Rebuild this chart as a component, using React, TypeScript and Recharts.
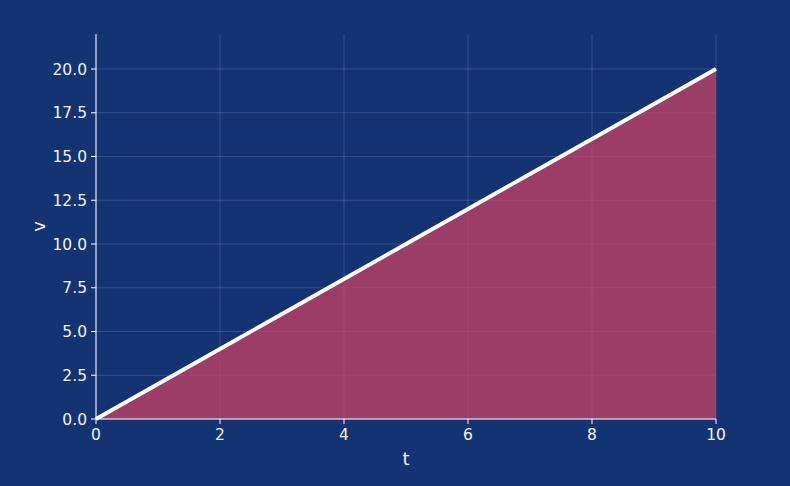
import React from "react";
import {
  ComposedChart,
  Area,
  Line,
  XAxis,
  YAxis,
  CartesianGrid,
} from "recharts";

// time and velocity samples (v = 2t)
const tValues = [0, 1, 2, 3, 4, 5, 6, 7, 8, 9, 10];
const vValues = [0, 2, 4, 6, 8, 10, 12, 14, 16, 18, 20];

const xTicks = [0, 2, 4, 6, 8, 10];
const yTicks = [0, 2.5, 5, 7.5, 10, 12.5, 15, 17.5, 20];

const BG = "#133373";
const TEXT = "#f2f3fa";
const FONT = "DejaVu Sans, sans-serif";

const data = tValues.map((t, i) => ({ t, v: vValues[i] }));

// rotated y label, centred on the axis height
const YLabel = (props: any) => {
  const { viewBox } = props;
  const cx = viewBox.x + 2;
  const cy = viewBox.y + viewBox.height / 2;
  return (
    <text
      x={cx}
      y={cy}
      fill={TEXT}
      fontSize={18}
      fontFamily={FONT}
      textAnchor="middle"
      dominantBaseline="central"
      transform={`rotate(-90, ${cx}, ${cy})`}
    >
      v
    </text>
  );
};

export default function App() {
  return (
    <div
      style={{
        position: "absolute",
        left: 0,
        top: 0,
        width: 790,
        height: 486,
        background: BG,
        fontFamily: FONT,
      }}
    >
      <ComposedChart
        width={790}
        height={486}
        data={data}
        margin={{ top: 34, right: 74, bottom: 22, left: 36 }}
      >
        <Area
          type="linear"
          dataKey="v"
          fill="#d54163"
          fillOpacity={0.7}
          stroke="none"
          isAnimationActive={false}
        />
        <CartesianGrid
          stroke="rgba(255,255,255,0.14)"
          strokeWidth={1}
          verticalValues={xTicks}
          horizontalValues={yTicks}
        />
        <Line
          type="linear"
          dataKey="v"
          stroke="#ffffff"
          strokeWidth={3.8}
          dot={false}
          isAnimationActive={false}
        />
        <XAxis
          dataKey="t"
          type="number"
          domain={[0, 10]}
          ticks={xTicks}
          height={45}
          stroke="#ffffff"
          tick={{ fill: TEXT, fontSize: 15.5, fontFamily: FONT }}
          tickSize={5}
          tickMargin={5}
          label={{
            value: "t",
            position: "insideBottom",
            offset: -1,
            fill: TEXT,
            fontSize: 18,
            fontFamily: FONT,
          }}
        />
        <YAxis
          type="number"
          domain={[0, 22]}
          ticks={yTicks}
          width={60}
          stroke="#ffffff"
          tick={{ fill: TEXT, fontSize: 15.5, fontFamily: FONT }}
          tickSize={5}
          tickMargin={4}
          tickFormatter={(v: number) => v.toFixed(1)}
          label={<YLabel />}
        />
      </ComposedChart>
    </div>
  );
}
